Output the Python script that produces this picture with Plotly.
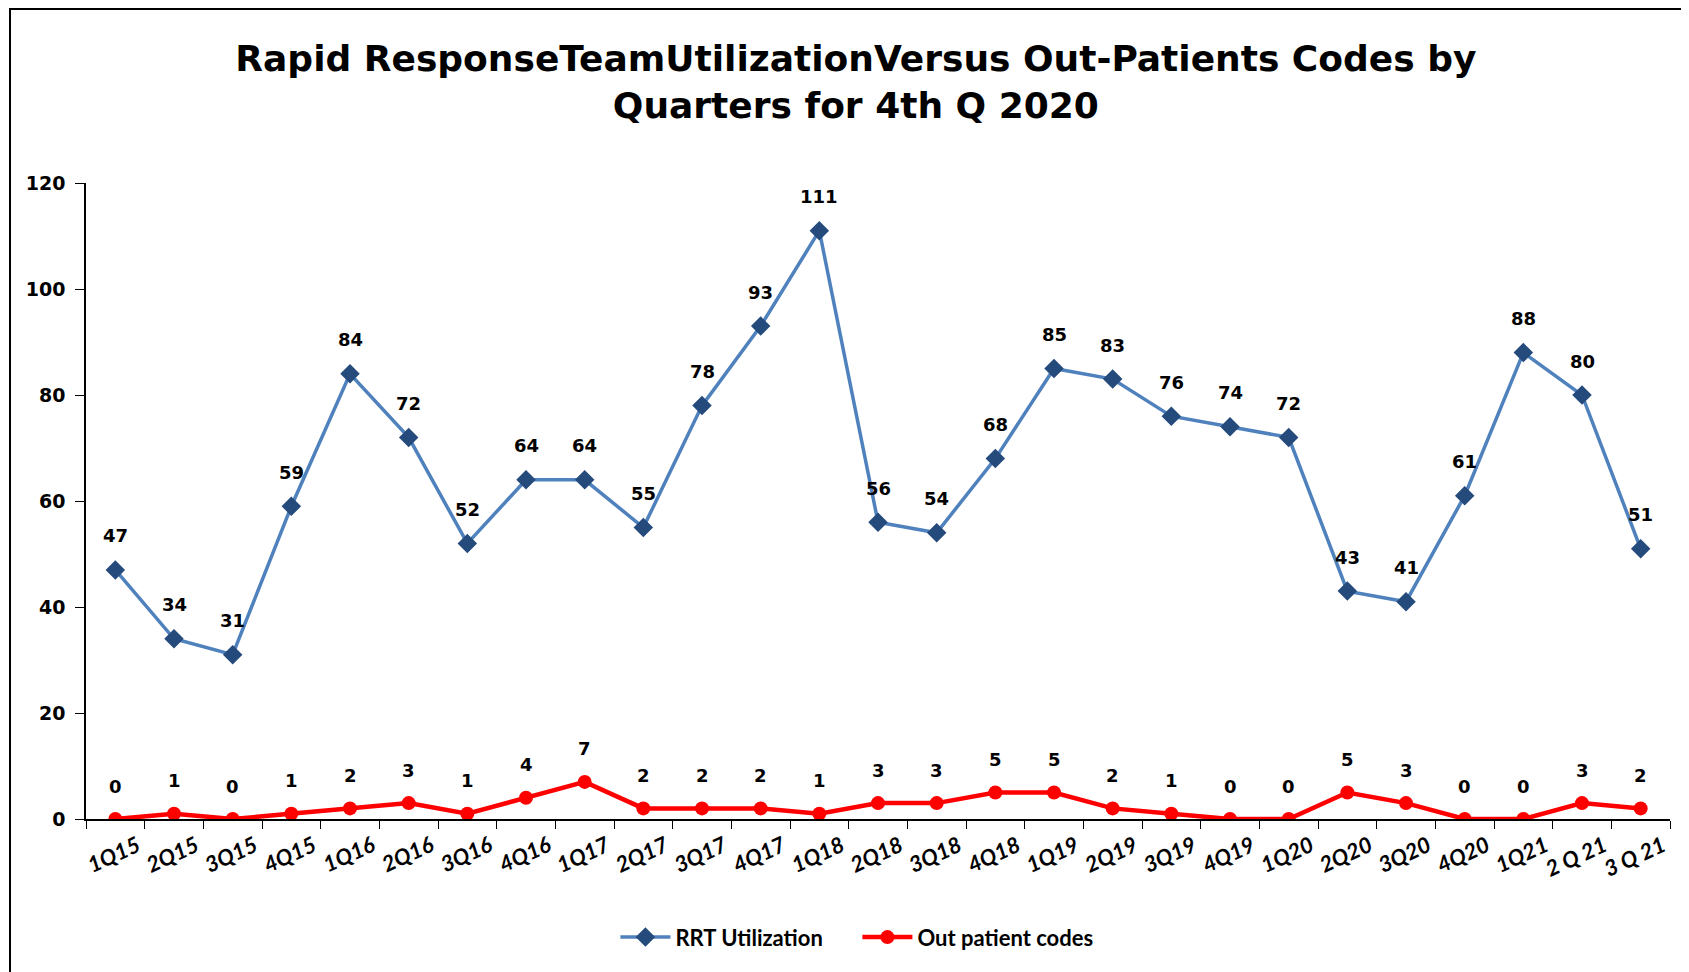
import plotly.graph_objects as go

quarters = ["1Q15", "2Q15", "3Q15", "4Q15", "1Q16", "2Q16", "3Q16", "4Q16",
            "1Q17", "2Q17", "3Q17", "4Q17", "1Q18", "2Q18", "3Q18", "4Q18",
            "1Q19", "2Q19", "3Q19", "4Q19", "1Q20", "2Q20", "3Q20", "4Q20",
            "1Q21", "2 Q 21", "3 Q 21"]
rrt = [47, 34, 31, 59, 84, 72, 52, 64, 64, 55, 78, 93, 111, 56, 54, 68,
       85, 83, 76, 74, 72, 43, 41, 61, 88, 80, 51]
out_codes = [0, 1, 0, 1, 2, 3, 1, 4, 7, 2, 2, 2, 1, 3, 3, 5,
             5, 2, 1, 0, 0, 5, 3, 0, 0, 3, 2]
y_ticks = [0, 20, 40, 60, 80, 100, 120]

fig = go.Figure()
fig.add_trace(go.Scatter(
    x=quarters, y=rrt, name="RRT Utilization", mode="lines+markers",
    line=dict(color="#4F81BD", width=3.5),
    marker=dict(symbol="diamond", size=15, color="#254A7C")))
fig.add_trace(go.Scatter(
    x=quarters, y=out_codes, name="Out patient codes", mode="lines+markers",
    line=dict(color="#FF0000", width=4.5),
    marker=dict(symbol="circle", size=14, color="#FF0000")))

# data labels above the points
label_font = dict(family="DejaVu Sans", size=18, color="black", weight="bold")
annotations = []
for q, v in zip(quarters, rrt):
    annotations.append(dict(x=q, y=v, text=str(v), showarrow=False,
                            yshift=34, font=label_font))
for q, v in zip(quarters, out_codes):
    annotations.append(dict(x=q, y=v, text=str(v), showarrow=False,
                            yshift=33, font=label_font))

# plot area in figure pixels
L, T, W, H = 78, 175, 1584, 636

fig.update_layout(
    width=1689, height=972,
    paper_bgcolor="white", plot_bgcolor="white",
    margin=dict(l=L, r=1689 - L - W, t=T, b=972 - T - H),
    title=dict(text="Rapid ResponseTeamUtilizationVersus Out-Patients Codes by<br>Quarters for 4th Q 2020",
               x=0.502, xanchor="center", y=0.935, yanchor="middle",
               font=dict(family="DejaVu Sans", size=36, color="black", weight="bold")),
    xaxis=dict(type="category", range=[-0.5, 26.5], showline=True, linecolor="black",
               linewidth=1.5, ticks="outside", ticklen=8, tickcolor="black",
               tickson="boundaries", showgrid=False, tickangle=-25,
               ticklabelshift=22, ticklabelstandoff=4,
               tickfont=dict(family="Lato", size=22, color="black",
                             weight="bold", style="italic")),
    yaxis=dict(range=[0, 120], tickvals=y_ticks, showline=True, linecolor="black",
               linewidth=1.5, ticks="outside", ticklen=9, tickcolor="black",
               showgrid=False, zeroline=False, ticklabelstandoff=6,
               tickfont=dict(family="DejaVu Sans", size=19, color="black", weight="bold")),
    legend=dict(orientation="h", x=0.487, xanchor="center", y=-0.186, yanchor="middle",
                itemwidth=50, entrywidth=177,
                font=dict(family="Lato", size=22, color="black", weight="bold")),
    annotations=annotations,
    shapes=[dict(type="rect", xref="paper", yref="paper",
                 x0=(2 - L) / W, x1=(1720 - L) / W,
                 y0=(T + H - 1000) / H, y1=(T + H - 1) / H,
                 line=dict(color="black", width=2))],
)

fig.write_html("out.html")
